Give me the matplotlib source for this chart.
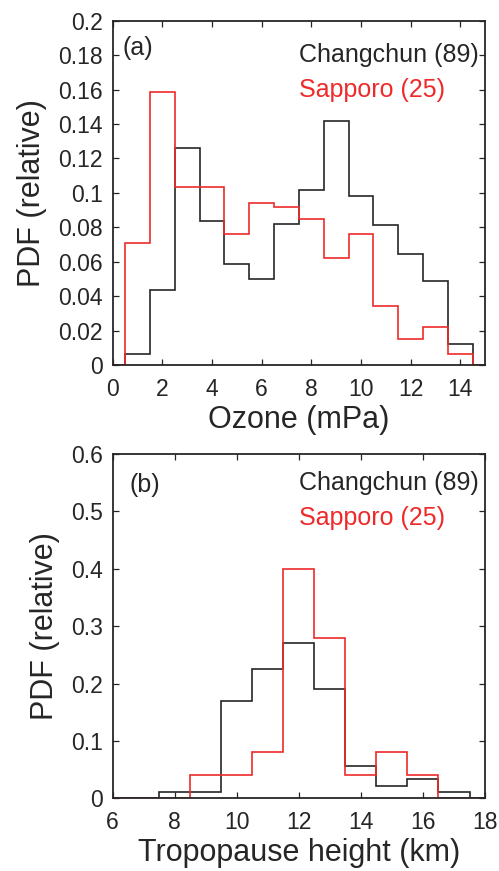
import numpy as np
import matplotlib
matplotlib.use("Agg")
import matplotlib.pyplot as plt
from matplotlib.ticker import FuncFormatter, MultipleLocator

plt.rcParams['font.family'] = ['Liberation Sans', 'DejaVu Sans']

# Panel (a): ozone PDF, bins centred on integers (edges at half-integers)
ozone_edges = np.arange(-0.5, 16.0, 1.0)
ozone_changchun = [0, 0.0065, 0.0435, 0.126, 0.0835, 0.0587, 0.050, 0.0817,
                   0.1017, 0.142, 0.0984, 0.0813, 0.0645, 0.049, 0.0122, 0]
ozone_sapporo = [0, 0.071, 0.1588, 0.1033, 0.1033, 0.0761, 0.0943, 0.0916,
                 0.085, 0.062, 0.0761, 0.0345, 0.0153, 0.0219, 0.0064, 0]

# Panel (b): tropopause height PDF
trop_edges = np.arange(5.5, 19.0, 1.0)
trop_changchun = [0, 0, 0.011, 0.011, 0.169, 0.225, 0.270, 0.191,
                  0.056, 0.022, 0.034, 0.011, 0]
trop_sapporo = [0, 0, 0, 0.04, 0.04, 0.08, 0.40, 0.28,
                0.04, 0.08, 0.04, 0, 0]

labels = ['Changchun (89)', 'Sapporo (25)']
BLACK = '#262626'
RED = '#ee2a2a'

fig = plt.figure(figsize=(4.99, 8.71), dpi=100)
ax1 = fig.add_axes([0.2259, 0.5809, 0.7461, 0.3953])
ax2 = fig.add_axes([0.2259, 0.0835, 0.7461, 0.3953])

fmt = FuncFormatter(lambda v, p: f"{v:g}")


def style(ax):
    ax.tick_params(direction='in', top=True, right=True, length=4,
                   width=0.9, labelsize=16.5, colors=BLACK)
    ax.tick_params(axis='x', pad=9)
    ax.tick_params(axis='y', pad=7)
    for s in ax.spines.values():
        s.set_linewidth(1.3)
        s.set_color(BLACK)
    ax.yaxis.set_major_formatter(fmt)
    ax.xaxis.set_major_formatter(fmt)


def legend_text(ax, tag, tag_xy, name_y):
    ax.text(tag_xy[0], tag_xy[1], tag, transform=ax.transAxes, fontsize=18,
            color=BLACK, va='center')
    ax.text(0.50, name_y[0], labels[0], transform=ax.transAxes, fontsize=18,
            color=BLACK, ha='left', va='center')
    ax.text(0.50, name_y[1], labels[1], transform=ax.transAxes, fontsize=18,
            color=RED, ha='left', va='center')


# (a)
ax1.stairs(ozone_changchun, ozone_edges, color=BLACK, lw=1.2)
ax1.stairs(ozone_sapporo, ozone_edges, color=RED, lw=1.2)
ax1.set_xlim(0, 15)
ax1.set_ylim(0, 0.2)
ax1.xaxis.set_major_locator(MultipleLocator(2))
ax1.yaxis.set_major_locator(MultipleLocator(0.02))
style(ax1)
ax1.set_xlabel('Ozone (mPa)', fontsize=22, color=BLACK, labelpad=3)
ax1.set_ylabel('PDF (relative)', fontsize=22, color=BLACK, labelpad=8)
legend_text(ax1, '(a)', (0.027, 0.92), (0.90, 0.80))

# (b)
ax2.stairs(trop_changchun, trop_edges, color=BLACK, lw=1.2)
ax2.stairs(trop_sapporo, trop_edges, color=RED, lw=1.2)
ax2.set_xlim(6, 18)
ax2.set_ylim(0, 0.6)
ax2.xaxis.set_major_locator(MultipleLocator(2))
ax2.yaxis.set_major_locator(MultipleLocator(0.1))
style(ax2)
ax2.set_xlabel('Tropopause height (km)', fontsize=22, color=BLACK, labelpad=3)
ax2.set_ylabel('PDF (relative)', fontsize=22, color=BLACK, labelpad=8)
legend_text(ax2, '(b)', (0.044, 0.91), (0.915, 0.813))

fig.savefig('out.png', dpi=100)
